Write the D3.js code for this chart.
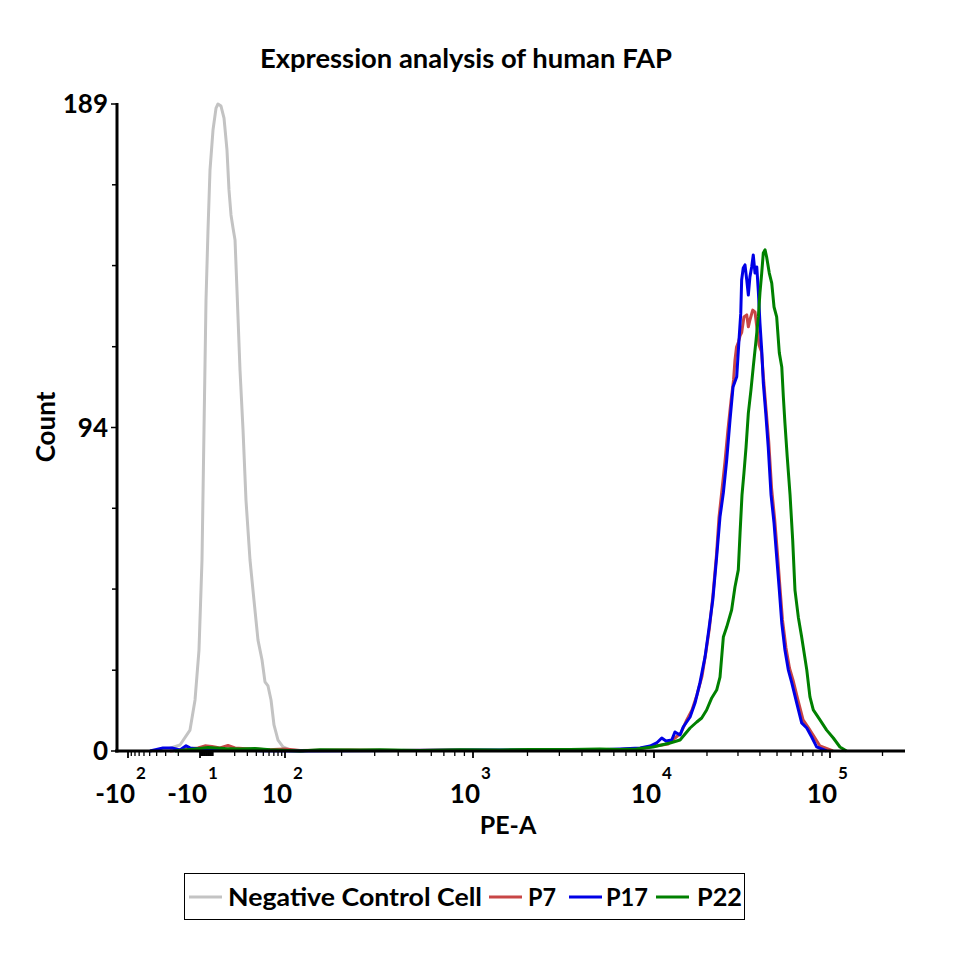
<!DOCTYPE html>
<html>
<head>
<meta charset="utf-8">
<script src="https://cdn.jsdelivr.net/npm/d3@7"></script>
<style>
  html, body { margin: 0; padding: 0; background: #fff; }
  svg { display: block; }
  text { font-family: Lato, "Open Sans", "DejaVu Sans", sans-serif; font-weight: bold; fill: #000; }
</style>
</head>
<body>
<svg id="chart" width="960" height="960"></svg>
<script>
// ---------------- DATA ----------------
// Bin positions are given in display decades of the biexponential PE-A axis
// (0 = zero, 2 = 10^2, 3 = 10^3 ..., negative side mirrored), counts per bin.
const chartTitle = "Expression analysis of human FAP";
const xAxisTitle = "PE-A";
const yAxisTitle = "Count";

const seriesNames = ["Negative Control Cell", "P7", "P17", "P22"];
const seriesColors = ["#c3c3c3", "#c84646", "#0000e6", "#008000"];

const negativeControl = [
  [-1.56,0],[-1.486,0.3],[-1.278,1.75],[-1.139,6.1],[-1.069,14.9],[-1.014,29.5],[-0.692,55.8],
  [-0.385,93.8],[-0.077,131.7],[0.231,152.2],[0.538,169.7],[1.0,181.4],[1.042,187.8],
  [1.069,189],[1.111,188.4],[1.153,184.9],[1.194,175.6],[1.222,163.9],[1.25,156.6],
  [1.278,152.8],[1.306,149.3],[1.333,134.7],[1.375,111.3],[1.417,93.8],[1.458,73.3],
  [1.514,55.8],[1.569,44.1],[1.625,32.4],[1.681,26.6],[1.722,20.2],[1.764,19.0],
  [1.806,14.9],[1.847,7.6],[1.903,3.2],[1.972,1.2],[2.027,0.3],[2.1,0]
];

const p7 = [
  [-1.417,0],[-1.028,0.9],[-0.231,1.5],[0.846,1.3],[1.097,0.9],[1.208,1.6],[1.306,0.9],
  [1.514,0.6],[1.764,0.4],[2.0,0.6],[2.08,0.15],[2.346,0.3],[2.612,0.15],[2.878,0.3],
  [3.149,0.15],[3.425,0.3],[3.646,0.44],
  [3.812,0.44],[3.923,0.73],[4.006,1.46],[4.045,1.75],[4.080,2.04],[4.119,3.8],[4.153,5.26],
  [4.186,9.06],[4.216,11.98],[4.244,16.4],[4.273,21.9],[4.295,28.9],[4.315,35.9],[4.335,45.6],
  [4.355,57.3],[4.369,68.1],[4.386,76.2],[4.403,84.4],[4.420,93.8],[4.438,102.5],[4.452,108.4],
  [4.460,114.2],[4.469,118.0],[4.480,119.5],[4.489,121.3],[4.498,122.2],[4.511,126.8],
  [4.527,127.4],[4.536,123.9],[4.545,125.9],[4.561,128.8],[4.574,128.2],[4.584,123.9],
  [4.597,118.6],[4.611,116.6],[4.622,109.0],[4.636,100.2],[4.652,90.3],[4.668,76.8],
  [4.686,67.5],[4.702,57.3],[4.716,47.6],[4.730,38.3],[4.750,30.1],[4.770,24.2],[4.790,20.7],
  [4.818,14.9],[4.847,9.1],[4.875,7.0],[4.903,4.7],[4.943,1.46],[5.017,0]
];

const p17 = [
  [-1.694,0],[-1.514,0.9],[-1.389,0.9],[-1.278,0.3],[-1.194,1.5],[-1.139,0.9],[-1.0,0.6],
  [0.538,0.4],[1.236,0.3],[1.653,0.1],[2.08,0],[2.6,0.15],[3.0,0.3],[3.48,0.3],[3.70,0.4],
  [3.812,0.58],[3.923,0.88],[3.978,1.46],[4.015,2.34],[4.044,3.8],[4.068,2.92],[4.101,3.21],
  [4.119,5.55],[4.148,4.67],[4.166,7.01],[4.205,9.93],[4.233,14.0],[4.261,19.9],[4.290,27.5],
  [4.309,34.5],[4.334,44.1],[4.356,56.7],[4.375,68.4],[4.394,75.4],[4.413,85.0],[4.432,96.7],
  [4.449,106.3],[4.470,109.3],[4.483,120.1],[4.493,127.9],[4.498,137.6],[4.507,141.1],
  [4.517,142.0],[4.527,137.6],[4.536,133.2],[4.545,138.5],[4.555,141.4],[4.564,144.9],
  [4.574,139.6],[4.584,141.4],[4.593,134.1],[4.602,125.0],[4.612,117.1],[4.621,107.5],
  [4.635,98.7],[4.649,88.8],[4.665,74.8],[4.682,66.6],[4.697,56.7],[4.712,47.0],[4.726,37.4],
  [4.744,29.5],[4.763,23.7],[4.783,19.9],[4.811,14.0],[4.839,8.2],[4.868,6.7],[4.896,4.1],
  [4.924,1.2],[4.981,0]
];

const p22 = [
  [-1.347,0],[-1.0,0.7],[0.231,1.0],[1.028,0.9],[1.167,0.7],[1.375,0.6],[1.583,0.7],[1.792,0.4],
  [2.08,0],[2.186,0.4],[2.399,0.3],[2.505,0.4],[2.718,0.15],[2.931,0.4],[3.149,0.3],[3.315,0.44],
  [3.536,0.44],[3.70,0.6],
  [3.812,0.44],[3.904,0.58],[3.994,1.17],[4.091,2.34],[4.148,3.21],[4.205,6.72],[4.243,8.47],
  [4.271,9.64],[4.299,11.98],[4.328,15.5],[4.356,17.8],[4.375,21.6],[4.394,33.3],[4.413,36.2],
  [4.441,41.2],[4.460,47.9],[4.479,52.9],[4.489,63.7],[4.500,74.8],[4.511,81.2],[4.523,88.8],
  [4.536,98.7],[4.551,105.5],[4.564,112.2],[4.580,120.1],[4.593,126.8],[4.602,133.8],
  [4.612,139.6],[4.621,145.5],[4.631,146.4],[4.640,144.3],[4.655,139.6],[4.669,136.7],
  [4.682,129.7],[4.697,126.8],[4.712,116.3],[4.726,112.2],[4.735,103.4],[4.744,95.8],
  [4.757,85.9],[4.773,74.8],[4.788,61.6],[4.801,47.0],[4.820,39.1],[4.839,33.3],[4.868,23.7],
  [4.886,15.8],[4.905,12.0],[4.943,9.1],[4.981,6.1],[5.019,3.8],[5.057,1.17],[5.095,0]
];

// Axis tick values (PE-A units) and labels
const xMajorTicks = [-100, -10, 100, 1000, 10000, 100000];
const xMajorBase = ["-10", "-10", "10", "10", "10", "10"];
const xMajorExp = ["2", "1", "2", "3", "4", "5"];
const xMinorTicks = [
  -90,-80,-70,-60,-50,-40,-30,-20,
  -9,-8,-7,-6,-5,-4,-3,-2,-1,0,1,2,3,4,5,6,7,8,9,10,
  20,30,40,50,60,70,80,90,
  200,300,400,500,600,700,800,900,
  2000,3000,4000,5000,6000,7000,8000,9000,
  20000,30000,40000,50000,60000,70000,80000,90000,
  200000
];
const yMajorTicks = [0, 94.5, 189];
const yMajorLabels = ["0", "94", "189"];
const yMinorTicks = [23.6, 47.3, 70.9, 118.1, 141.8, 165.4];
const yMax = 189;

// ---------------- SCALES ----------------
// biexponential display transform: linear within +-10, log decades outside
function toDecade(v) {
  const a = Math.abs(v);
  if (a < 10) return v / 10;
  return Math.sign(v) * (1 + Math.log10(a / 10));
}

const svg = d3.select("#chart");

const x = d3.scaleLinear()
  .domain([-2.18, -2, -1, 0, 1, 2, 3, 4, 5, 5.43])
  .range([115, 128, 200, 206.5, 213, 285, 473, 654, 830, 905]);
const y = d3.scaleLinear().domain([0, yMax]).range([751, 104]);

const xAxisY = y(0);
const yAxisX = 117;

// ---------------- CURVES ----------------
const line = d3.line().x(d => x(d[0])).y(d => y(d[1]));
const allSeries = [negativeControl, p7, p17, p22];
svg.append("g").selectAll("path")
  .data(allSeries)
  .join("path")
  .attr("d", line)
  .attr("fill", "none")
  .attr("stroke", (d, i) => seriesColors[i])
  .attr("stroke-width", 3)
  .attr("stroke-linejoin", "round");

// ---------------- AXES ----------------
const ax = svg.append("g");
ax.append("line").attr("x1", yAxisX).attr("x2", yAxisX)
  .attr("y1", y(yMax) - 1).attr("y2", xAxisY + 1.5)
  .attr("stroke", "#000").attr("stroke-width", 3);
ax.append("line").attr("x1", x.range()[0]).attr("x2", x.range()[x.range().length - 1])
  .attr("y1", xAxisY).attr("y2", xAxisY)
  .attr("stroke", "#000").attr("stroke-width", 3);

ax.selectAll(".ytm").data(yMajorTicks).join("line")
  .attr("x1", yAxisX - 6).attr("x2", yAxisX)
  .attr("y1", d => y(d)).attr("y2", d => y(d))
  .attr("stroke", "#000").attr("stroke-width", 1.5);
ax.selectAll(".ytn").data(yMinorTicks).join("line")
  .attr("x1", yAxisX - 5).attr("x2", yAxisX)
  .attr("y1", d => y(d)).attr("y2", d => y(d))
  .attr("stroke", "#000").attr("stroke-width", 1.5);
ax.selectAll(".ytl").data(yMajorTicks).join("text")
  .attr("x", yAxisX - 9).attr("y", d => y(d) + 9)
  .attr("text-anchor", "end").attr("font-size", 26)
  .text((d, i) => yMajorLabels[i]);

ax.selectAll(".xtn").data(xMinorTicks).join("line")
  .attr("x1", d => x(toDecade(d))).attr("x2", d => x(toDecade(d)))
  .attr("y1", xAxisY).attr("y2", xAxisY + 5)
  .attr("stroke", "#000").attr("stroke-width", 1.3);
ax.selectAll(".xtm").data(xMajorTicks).join("line")
  .attr("x1", d => x(toDecade(d))).attr("x2", d => x(toDecade(d)))
  .attr("y1", xAxisY).attr("y2", xAxisY + 7)
  .attr("stroke", "#000").attr("stroke-width", 1.8);
const xl = ax.selectAll(".xtl").data(xMajorTicks).join("g")
  .attr("transform", d => `translate(${x(toDecade(d))},0)`);
xl.append("text").attr("x", 7).attr("y", 803)
  .attr("text-anchor", "end").attr("font-size", 26)
  .text((d, i) => xMajorBase[i]);
xl.append("text").attr("x", 8).attr("y", 779)
  .attr("text-anchor", "start").attr("font-size", 17)
  .text((d, i) => xMajorExp[i]);

// ---------------- TITLES ----------------
svg.append("text").attr("x", 466).attr("y", 68)
  .attr("text-anchor", "middle").attr("font-size", 26)
  .attr("textLength", 412).attr("lengthAdjust", "spacingAndGlyphs")
  .text(chartTitle);
svg.append("text").attr("x", 508).attr("y", 834)
  .attr("text-anchor", "middle").attr("font-size", 25)
  .text(xAxisTitle);
svg.append("text").attr("transform", "translate(55,427) rotate(-90)")
  .attr("text-anchor", "middle").attr("font-size", 26)
  .text(yAxisTitle);

// ---------------- LEGEND ----------------
const lg = svg.append("g");
lg.append("rect").attr("x", 184.5).attr("y", 873.5).attr("width", 560).attr("height", 46)
  .attr("fill", "#fff").attr("stroke", "#000").attr("stroke-width", 1);
const legendLineX = [189, 489, 569, 656];
const legendTextX = [228, 528, 606, 697];
const legendTextW = [254, 28, 42, 45];
seriesNames.forEach((name, i) => {
  lg.append("line").attr("x1", legendLineX[i]).attr("x2", legendLineX[i] + 33)
    .attr("y1", 897).attr("y2", 897)
    .attr("stroke", seriesColors[i]).attr("stroke-width", 3);
  lg.append("text").attr("x", legendTextX[i]).attr("y", 906)
    .attr("font-size", 25)
    .attr("textLength", legendTextW[i]).attr("lengthAdjust", "spacingAndGlyphs")
    .text(name);
});
</script>
</body>
</html>
